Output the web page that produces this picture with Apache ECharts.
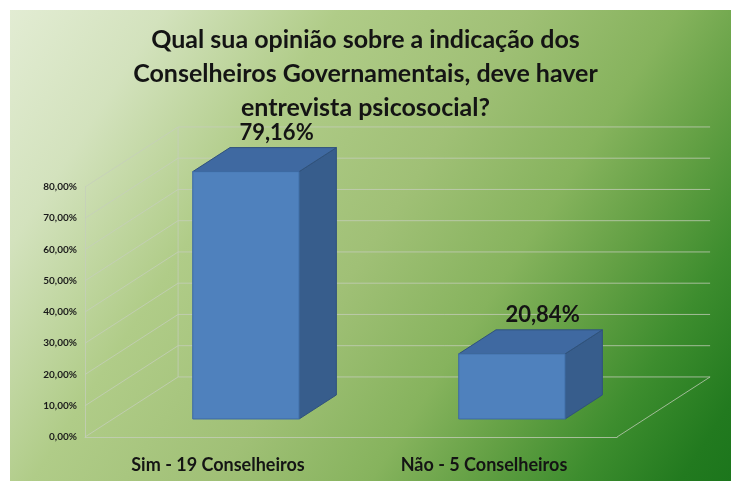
<!DOCTYPE html>
<html>
<head>
<meta charset="utf-8">
<script src="https://cdn.jsdelivr.net/npm/echarts@6/dist/echarts.min.js"></script>
<style>
  html, body { margin: 0; padding: 0; background: #ffffff; }
  #chart { width: 731px; height: 481px; }
</style>
</head>
<body>
<div id="chart"></div>
<script>
// Survey answers and their shares (%)
const categories = ['Sim - 19 Conselheiros', 'Não - 5 Conselheiros'];
const values = [79.16, 20.84];
// Value-axis ticks (%)
const yTicks = [0, 10, 20, 30, 40, 50, 60, 70, 80];

const titleText = 'Qual sua opinião sobre a indicação dos\nConselheiros Governamentais, deve haver\nentrevista psicosocial?';

// Pseudo-3D box geometry, expressed relative to the category band width
const DEPTH_X = 0.35;      // full floor depth, horizontal part
const DEPTH_SLOPE = 0.645; // vertical rise per horizontal unit of depth
const BAR_OFFSET = 0.3;    // bar front face position inside the depth
const BAR_THICK = 0.4;     // bar depth
const BAR_WIDTH = 0.4;     // bar width

const GRID_COLOR = 'rgba(198, 206, 188, 0.75)';
const FONT = 'Lato, "Open Sans", sans-serif';

const fmtPct = v => v.toFixed(2).replace('.', ',') + '%';

function renderWalls(params, api) {
  const v = api.value(1);
  const cs = params.coordSys;
  const band = api.size([1, 0])[0];
  const dx = band * DEPTH_X;
  const dy = -dx * DEPTH_SLOPE;
  const y = api.coord([0, v])[1];
  const left = cs.x;
  const right = cs.x + cs.width;
  const style = { stroke: GRID_COLOR, fill: null, lineWidth: 1 };
  const children = [{
    type: 'polyline',
    shape: { points: [[left, y], [left + dx, y + dy], [right + dx, y + dy]] },
    style: style
  }];
  if (v === yTicks[0]) {
    // right edge of the floor and back corner of the wall
    children.push({
      type: 'line',
      shape: { x1: right, y1: y, x2: right + dx, y2: y + dy },
      style: style
    });
    children.push({
      type: 'line',
      shape: { x1: left + dx, y1: y + dy, x2: left + dx, y2: cs.y + dy },
      style: style
    });
  }
  return { type: 'group', children: children };
}

function renderBox(params, api) {
  const idx = api.value(0);
  const v = api.value(1);
  const top = api.coord([idx, v]);
  const base = api.coord([idx, 0]);
  const band = api.size([1, 0])[0];
  const dx = band * DEPTH_X;
  const dy = -dx * DEPTH_SLOPE;
  const w = band * BAR_WIDTH;
  const cx = top[0] + dx * BAR_OFFSET;
  const x0 = cx - w / 2;
  const x1 = cx + w / 2;
  const yb = base[1] + dy * BAR_OFFSET;
  const yt = top[1] + dy * BAR_OFFSET;
  const bx = dx * BAR_THICK;
  const by = dy * BAR_THICK;
  return {
    type: 'group',
    children: [
      {
        type: 'polygon',
        shape: { points: [[x1, yt], [x1 + bx, yt + by], [x1 + bx, yb + by], [x1, yb]] },
        style: { fill: '#375d8c', stroke: '#30527c', lineWidth: 1 }
      },
      {
        type: 'polygon',
        shape: { points: [[x0, yt], [x0 + bx, yt + by], [x1 + bx, yt + by], [x1, yt]] },
        style: { fill: '#3f69a1', stroke: '#30527c', lineWidth: 1 }
      },
      {
        type: 'rect',
        shape: { x: x0, y: yt, width: w, height: yb - yt },
        style: { fill: '#4f81bd', stroke: '#3d6aa3', lineWidth: 1 }
      },
      {
        type: 'text',
        x: cx + bx / 2 + 12,
        y: yt + by - 4,
        style: {
          text: fmtPct(v),
          fill: '#141414',
          font: 'bold 22px ' + FONT,
          align: 'center',
          verticalAlign: 'bottom'
        }
      }
    ]
  };
}

const chart = echarts.init(document.getElementById('chart'), null, { renderer: 'canvas' });

chart.setOption({
  animation: false,
  backgroundColor: '#ffffff',
  graphic: {
    elements: [{
      type: 'rect',
      z: -100,
      silent: true,
      shape: { x: 10, y: 10, width: 721, height: 471 },
      style: {
        fill: new echarts.graphic.LinearGradient(0, 0, 1, 1, [
          { offset: 0, color: '#e2ecd3' },
          { offset: 0.15, color: '#d3e2bd' },
          { offset: 0.32, color: '#b0cc88' },
          { offset: 0.5, color: '#a0c076' },
          { offset: 0.65, color: '#86b35d' },
          { offset: 0.75, color: '#63a044' },
          { offset: 0.85, color: '#3d8d2e' },
          { offset: 0.95, color: '#227a1f' },
          { offset: 1, color: '#1c761c' }
        ])
      }
    }]
  },
  title: {
    text: titleText,
    left: 'center',
    top: 18,
    textStyle: {
      fontFamily: FONT,
      fontWeight: 'bold',
      fontSize: 25,
      lineHeight: 34,
      color: '#141414'
    }
  },
  grid: { left: 85, right: 114, top: 187, bottom: 44, containLabel: false },
  xAxis: {
    type: 'category',
    data: categories,
    axisLine: { show: true, lineStyle: { color: GRID_COLOR, width: 1 } },
    axisTick: { show: false },
    axisLabel: {
      margin: 19,
      fontFamily: FONT,
      fontWeight: 'bold',
      fontSize: 18,
      color: '#141414'
    },
    splitLine: { show: false }
  },
  yAxis: {
    type: 'value',
    min: 0,
    max: 80,
    interval: 10,
    axisLine: { show: true, lineStyle: { color: GRID_COLOR, width: 1 } },
    axisTick: { show: false },
    splitLine: { show: false },
    axisLabel: {
      margin: 8,
      fontFamily: FONT,
      fontWeight: 'bold',
      fontSize: 10,
      color: '#1a1a1a',
      formatter: v => fmtPct(v)
    }
  },
  series: [
    {
      type: 'custom',
      name: 'walls',
      z: 1,
      silent: true,
      clip: false,
      encode: { x: 0, y: 1 },
      renderItem: renderWalls,
      data: yTicks.map(v => [0, v])
    },
    {
      type: 'custom',
      name: 'share',
      z: 3,
      clip: false,
      encode: { x: 0, y: 1 },
      renderItem: renderBox,
      data: values.map((v, i) => [i, v])
    }
  ]
});
</script>
</body>
</html>
